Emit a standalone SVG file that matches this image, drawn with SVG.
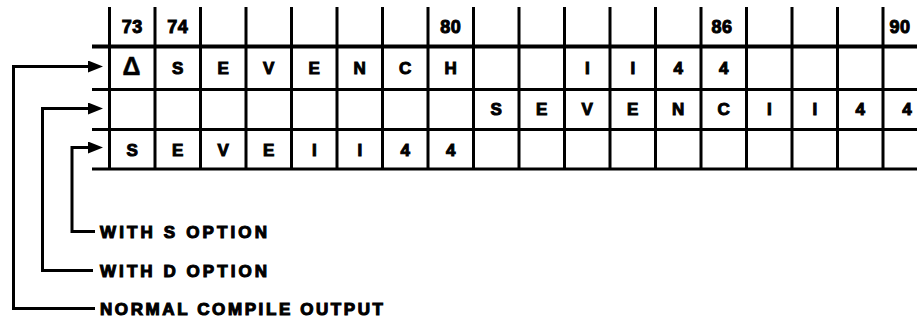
<svg xmlns="http://www.w3.org/2000/svg" width="917" height="326" viewBox="0 0 917 326">
<style>
.bg{fill:#fff}
.grid{stroke:#000;stroke-width:3;fill:none}
.thick{stroke-width:4}
.t{font-family:"Liberation Sans",Arial,sans-serif;font-weight:bold;font-size:17px;fill:#000;stroke:#000;stroke-width:1;text-anchor:middle}
.h{font-size:18px;letter-spacing:0.5px}
.lab{font-family:"Liberation Sans",Arial,sans-serif;font-weight:bold;font-size:17px;fill:#000;stroke:#000;stroke-width:1.1}
.conn{stroke:#000;stroke-width:3;fill:none;stroke-linejoin:miter}
</style>
<defs>
<marker id="ah" markerUnits="userSpaceOnUse" markerWidth="16" markerHeight="13" refX="2" refY="6" orient="auto">
<path d="M0,0 L15,6 L0,12 z" fill="#000"/>
</marker>
</defs>
<rect class="bg" x="0" y="0" width="917" height="326"/>
<g id="grid">
<g class="grid">
<path class="thick" d="M92,46.5 H917"/>
<path d="M92,89.5 H917 M92,129.5 H917 M92,169 H917"/>
<path d="M109.5,7 V170 M155,7 V170 M200.5,7 V170 M246,7 V170 M291.5,7 V170 M337,7 V170 M382.5,7 V170 M428,7 V170 M473.5,7 V170 M519,7 V170 M564.5,7 V170 M610,7 V170 M655.5,7 V170 M701,7 V170 M746.5,7 V170 M792,7 V170 M837.5,7 V170 M883,7 V170"/>
</g>
</g>
<g id="header">
<text class="t h" x="132.25" y="32.5">73</text>
<text class="t h" x="177.75" y="32.5">74</text>
<text class="t h" x="450.75" y="32.5">80</text>
<text class="t h" x="722" y="32.5">86</text>
<text class="t h" x="900" y="32.5">90</text>
</g>
<g id="row1">
<text class="t" x="131.5" y="75" style="font-size:25px;stroke-width:0.5">Δ</text>
<text class="t" x="177.75" y="74">S</text>
<text class="t" x="223.25" y="74">E</text>
<text class="t" x="268.75" y="74">V</text>
<text class="t" x="314.25" y="74">E</text>
<text class="t" x="359.75" y="74">N</text>
<text class="t" x="405.25" y="74">C</text>
<text class="t" x="450.75" y="74">H</text>
<text class="t" x="587.25" y="74">I</text>
<text class="t" x="632.75" y="74">I</text>
<text class="t" x="678.25" y="74">4</text>
<text class="t" x="723.75" y="74">4</text>
</g>
<g id="row2">
<text class="t" x="496.25" y="115">S</text>
<text class="t" x="541.75" y="115">E</text>
<text class="t" x="587.25" y="115">V</text>
<text class="t" x="632.75" y="115">E</text>
<text class="t" x="678.25" y="115">N</text>
<text class="t" x="723.75" y="115">C</text>
<text class="t" x="769.25" y="115">I</text>
<text class="t" x="814.75" y="115">I</text>
<text class="t" x="860.25" y="115">4</text>
<text class="t" x="907" y="115">4</text>
</g>
<g id="row3">
<text class="t" x="132.25" y="156">S</text>
<text class="t" x="177.75" y="156">E</text>
<text class="t" x="223.25" y="156">V</text>
<text class="t" x="268.75" y="156">E</text>
<text class="t" x="314.25" y="156">I</text>
<text class="t" x="359.75" y="156">I</text>
<text class="t" x="405.25" y="156">4</text>
<text class="t" x="450.75" y="156">4</text>
</g>
<g id="connectors">
<path class="conn" d="M95,308.5 H13.5 V66.5 H90" marker-end="url(#ah)"/>
<path class="conn" d="M93,270.5 H42.5 V108.5 H90" marker-end="url(#ah)"/>
<path class="conn" d="M95,231.5 H72 V147.5 H90" marker-end="url(#ah)"/>
</g>
<g id="label-s">
<text class="lab" x="100" y="237.5" textLength="167" lengthAdjust="spacing">WITH S OPTION</text>
</g>
<g id="label-d">
<text class="lab" x="100" y="276.5" textLength="167" lengthAdjust="spacing">WITH D OPTION</text>
</g>
<g id="label-normal">
<text class="lab" x="100" y="314.5" textLength="283" lengthAdjust="spacing">NORMAL COMPILE OUTPUT</text>
</g>
</svg>
